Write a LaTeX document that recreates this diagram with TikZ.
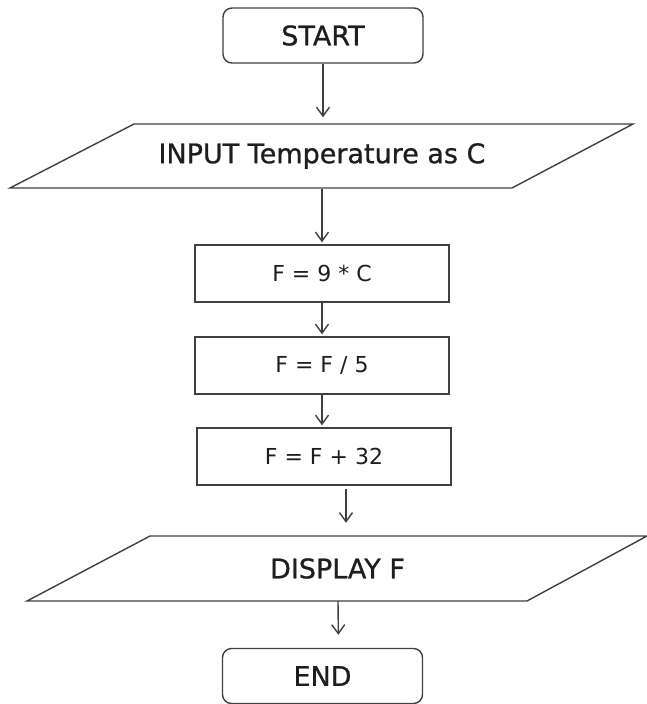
\documentclass[tikz,border=0pt]{standalone}
\usepackage{fontspec}
\setmainfont{DejaVu Sans}
\newfontfamily\titlefont[FakeBold=0.8]{DejaVu Sans}
\usetikzlibrary{arrows.meta,calc}
\definecolor{linec}{RGB}{64,64,60}
\definecolor{txt}{RGB}{30,30,30}
\begin{document}
\begin{tikzpicture}[x=1pt,y=1pt,
  line/.style={draw=linec, line width=1.4pt},
  term/.style={line, rounded corners=9pt, minimum width=200pt, minimum height=55pt, inner sep=0pt, font=\titlefont\fontsize{27}{30}\selectfont, text=txt},
  proc/.style={line, minimum width=254pt, minimum height=57pt, inner sep=0pt, font=\fontsize{22}{26}\selectfont, text=txt},
  io/.style={minimum width=380pt, minimum height=65pt, inner sep=0pt, font=\titlefont\fontsize{27}{30}\selectfont, text=txt},
  arr/.style={line, -{Straight Barb[length=9pt,width=13pt]}}]
\fill[white] (0,0) rectangle (647,-704);
\useasboundingbox (0,0) rectangle (647,-704);

\node[term] (start) at (323,-35.5) {START};

\node[io] (inp) at (322,-156) {INPUT Temperature as C};
\draw[line] ([shift={(-188,32)}]inp.center) -- ([shift={(311,32)}]inp.center)
  -- ([shift={(190,-32)}]inp.center) -- ([shift={(-312,-32)}]inp.center) -- cycle;

\node[proc] (b1) at (322,-273.5) {F = 9 * C};
\node[proc] (b2) at (322,-365.5) {F = F / 5};
\node[proc] (b3) at (324,-456.5) {F = F + 32};

\node[io] (disp) at (337.5,-568.5) {DISPLAY F};
\draw[line] ([shift={(-187.5,32.5)}]disp.center) -- ([shift={(309.5,32.5)}]disp.center)
  -- ([shift={(189.5,-32.5)}]disp.center) -- ([shift={(-310.5,-32.5)}]disp.center) -- cycle;

\node[term] (end) at (322.5,-676) {END};

\draw[arr, shorten >=6pt] (start.south) -- ([xshift=1pt]inp.north);
\draw[arr, shorten >=2pt] (inp.south) -- (b1.north);
\draw[arr, shorten >=2pt] (b1.south) -- (b2.north);
\draw[arr, shorten >=2pt] (b2.south) -- ([xshift=-2pt]b3.north);
\draw[arr, shorten <=3pt, shorten >=13pt] ([xshift=22pt]b3.south) -- ([xshift=8.5pt]disp.north);
\draw[arr, shorten >=13pt] ([xshift=0.5pt]disp.south) -- ([xshift=16pt]end.north);
\end{tikzpicture}
\end{document}
